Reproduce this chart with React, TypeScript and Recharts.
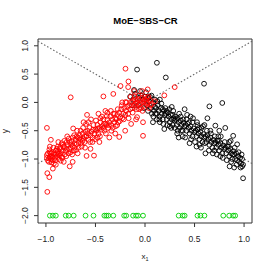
import React from "react";
import { ScatterChart, Scatter, XAxis, YAxis, ReferenceLine, ReferenceArea } from "recharts";

const xTicks = [-1, -0.5, 0, 0.5, 1];
const yTicks = [-2, -1.5, -1, -0.5, 0, 0.5, 1];

const redPoints: [number, number][] = [
  [-0.99,-0.98],[-0.98,-0.9],[-0.97,-1.05],[-0.96,-0.95],[-0.95,-1.0],[-0.94,-0.88],[-0.93,-0.97],[-0.92,-1.08],[-0.91,-0.92],[-0.9,-0.85],
  [-0.99,-0.93],[-0.97,-0.99],[-0.95,-0.9],[-0.93,-1.02],[-0.91,-0.98],[-0.98,-1.03],[-0.96,-0.88],[-0.94,-0.95],[-0.92,-0.9],
  [-0.99,-0.45],[-0.95,-0.66],[-0.986,-1.25],[-0.966,-1.32],[-0.986,-1.58],[-0.93,-1.17],
  [-0.89,-0.95],[-0.88,-0.87],[-0.87,-1.0],[-0.86,-0.82],[-0.85,-0.9],[-0.84,-0.96],[-0.83,-0.85],[-0.82,-0.78],[-0.81,-0.92],[-0.8,-0.86],
  [-0.89,-0.82],[-0.87,-0.91],[-0.85,-1.03],[-0.83,-0.75],[-0.81,-0.8],[-0.88,-0.78],[-0.86,-0.94],[-0.84,-0.72],
  [-0.79,-0.82],[-0.78,-0.75],[-0.77,-0.9],[-0.76,-0.7],[-0.75,-0.8],[-0.74,-0.68],[-0.73,-0.77],[-0.72,-0.85],[-0.71,-0.72],[-0.7,-0.66],
  [-0.79,-0.7],[-0.77,-0.64],[-0.75,-0.88],[-0.73,-0.62],[-0.71,-0.8],[-0.76,-1.13],[-0.73,-1.05],[-0.725,-0.46],[-0.75,0.09],
  [-0.69,-0.74],[-0.68,-0.62],[-0.67,-0.7],[-0.66,-0.58],[-0.65,-0.66],[-0.64,-0.78],[-0.63,-0.55],[-0.62,-0.64],[-0.61,-0.7],[-0.6,-0.52],
  [-0.69,-0.6],[-0.67,-0.8],[-0.65,-0.5],[-0.63,-0.68],[-0.61,-0.6],
  [-0.59,-0.6],[-0.58,-0.5],[-0.57,-0.66],[-0.56,-0.45],[-0.55,-0.58],[-0.54,-0.52],[-0.53,-0.62],[-0.52,-0.4],[-0.51,-0.55],[-0.5,-0.48],
  [-0.585,-0.22],[-0.59,-0.945],[-0.515,-0.94],[-0.57,-0.35],[-0.53,-0.7],
  [-0.49,-0.5],[-0.48,-0.4],[-0.47,-0.56],[-0.46,-0.45],[-0.45,-0.35],[-0.44,-0.48],[-0.43,-0.42],[-0.42,-0.3],[-0.41,-0.5],[-0.4,-0.38],
  [-0.48,-0.62],[-0.45,-0.28],[-0.42,-0.45],[-0.42,0.106],[-0.47,-0.2],
  [-0.39,-0.4],[-0.38,-0.3],[-0.37,-0.45],[-0.36,-0.35],[-0.35,-0.25],[-0.34,-0.4],[-0.33,-0.3],[-0.32,-0.2],[-0.31,-0.35],[-0.3,-0.28],
  [-0.36,-0.62],[-0.32,0.15],[-0.38,-0.18],[-0.34,-0.5],
  [-0.29,-0.3],[-0.28,-0.22],[-0.27,-0.35],[-0.26,-0.18],[-0.25,-0.26],[-0.24,-0.12],[-0.23,-0.28],[-0.22,-0.2],[-0.21,-0.1],[-0.2,-0.22],
  [-0.26,-0.61],[-0.2,-0.5],[-0.247,0.29],[-0.197,0.595],[-0.167,0.37],[-0.17,0.27],[-0.197,0.005],[-0.28,-0.4],
  [-0.19,-0.15],[-0.18,-0.08],[-0.17,-0.2],[-0.16,-0.05],[-0.15,-0.12],[-0.14,0.0],[-0.13,-0.1],[-0.12,0.02],[-0.11,-0.05],[-0.1,0.05],
  [-0.09,-0.08],[-0.08,0.0],[-0.07,0.06],[-0.06,-0.04],[-0.05,0.03],[-0.04,-0.1],[-0.03,0.08],[-0.02,0.0],[-0.01,-0.06],[0.0,0.05],
  [0.01,-0.02],[0.02,0.08],[0.03,0.0],[0.05,0.04],[-0.08,-0.26],[-0.03,0.2],[0.027,0.23],[-0.02,-0.59],[-0.02,-0.35],
  [0.195,0.124],[0.3,0.27],[0.07,-0.03],[0.1,0.02],[-0.06,-0.12],[0.04,-0.1],[-0.1,-0.02],
  [-0.965,-0.83],[-0.945,-1.06],[-0.925,-0.8],[-0.905,-1.02],[-0.885,-0.9],[-0.875,-0.7],[-0.855,-0.79],[-0.835,-0.98],[-0.815,-0.68],
  [-0.795,-0.95],[-0.785,-0.6],[-0.765,-0.83],[-0.745,-0.74],[-0.735,-0.92],[-0.715,-0.58],[-0.695,-0.84],[-0.685,-0.5],[-0.665,-0.63],
  [-0.645,-0.72],[-0.625,-0.45],[-0.605,-0.8],[-0.595,-0.38],[-0.575,-0.55],[-0.555,-0.7],[-0.545,-0.3],[-0.525,-0.48],[-0.505,-0.65],
  [-0.495,-0.32],[-0.475,-0.46],[-0.455,-0.6],[-0.435,-0.25],[-0.415,-0.38],[-0.395,-0.55],[-0.385,-0.24],[-0.365,-0.4],[-0.345,-0.15],
  [-0.325,-0.45],[-0.305,-0.2],[-0.295,-0.42],[-0.275,-0.12],[-0.255,-0.33],[-0.235,-0.05],[-0.215,-0.3],[-0.185,0.0],[-0.165,-0.28],
  [-0.145,0.1],[-0.125,-0.18],[-0.105,0.1],[-0.085,-0.12],[-0.065,0.12],[-0.045,-0.02],[-0.025,-0.15],[-0.005,0.1],[0.015,0.03],
  [0.035,0.1],[0.055,-0.05],[-0.96,-0.78],[-0.9,-1.1],[-0.82,-1.05],[-0.68,-0.9],[-0.62,-0.35],[-0.55,-0.82],[-0.46,-0.7],
  [-0.4,-0.15],[-0.3,-0.55],[-0.23,0.0],[-0.14,-0.38],[-0.11,0.2],[-0.09,-0.3]
];

const blackPoints: [number, number][] = [
  [-0.15,0.1],[-0.12,0.05],[-0.1,0.15],[-0.08,0.58],[-0.06,0.08],[-0.04,0.12],[-0.02,0.05],[0.0,0.1],[0.02,-0.05],[0.04,0.02],
  [0.05,0.1],[0.06,-0.1],[0.08,0.0],[0.09,-0.15],[0.1,0.05],[0.03,-0.15],[0.07,-0.2],[0.1,-0.08],[0.12,0.7],
  [0.11,-0.1],[0.12,-0.2],[0.13,-0.05],[0.14,-0.15],[0.15,-0.25],[0.16,-0.1],[0.17,-0.2],[0.18,-0.3],[0.19,-0.15],[0.2,-0.22],
  [0.12,-0.3],[0.15,-0.35],[0.18,-0.12],[0.195,-0.47],[0.21,0.44],
  [0.21,-0.2],[0.22,-0.3],[0.23,-0.18],[0.24,-0.25],[0.25,-0.35],[0.26,-0.22],[0.27,-0.3],[0.28,-0.4],[0.29,-0.28],[0.3,-0.32],
  [0.22,-0.15],[0.25,-0.42],[0.28,-0.22],[0.3,-0.45],
  [0.31,-0.3],[0.32,-0.4],[0.33,-0.28],[0.34,-0.35],[0.35,-0.45],[0.36,-0.32],[0.37,-0.4],[0.38,-0.5],[0.39,-0.36],[0.4,-0.42],
  [0.33,-0.5],[0.36,-0.25],[0.38,-0.6],
  [0.41,-0.4],[0.42,-0.5],[0.43,-0.38],[0.44,-0.45],[0.45,-0.55],[0.46,-0.42],[0.47,-0.5],[0.48,-0.6],[0.49,-0.46],[0.5,-0.52],
  [0.45,-0.72],[0.42,-0.3],[0.48,-0.35],
  [0.51,-0.5],[0.52,-0.6],[0.53,-0.48],[0.54,-0.55],[0.55,-0.65],[0.56,-0.52],[0.57,-0.6],[0.58,-0.7],[0.59,-0.56],[0.6,-0.62],
  [0.596,0.33],[0.53,-0.4],[0.57,-0.45],[0.55,-0.75],
  [0.61,-0.6],[0.62,-0.7],[0.63,-0.58],[0.64,-0.65],[0.65,-0.75],[0.66,-0.62],[0.67,-0.7],[0.68,-0.8],[0.69,-0.66],[0.7,-0.72],
  [0.61,-0.9],[0.63,-0.28],[0.65,-0.07],[0.71,-0.41],[0.66,-0.5],
  [0.71,-0.7],[0.72,-0.8],[0.73,-0.68],[0.74,-0.75],[0.75,-0.85],[0.76,-0.72],[0.77,-0.8],[0.78,-0.9],[0.79,-0.76],[0.8,-0.82],
  [0.78,-0.01],[0.81,-0.45],[0.74,-0.6],[0.76,-0.95],
  [0.81,-0.8],[0.82,-0.9],[0.83,-0.78],[0.84,-0.85],[0.85,-0.95],[0.86,-0.82],[0.87,-0.9],[0.88,-1.0],[0.89,-0.86],[0.9,-0.92],
  [0.91,-1.0],[0.92,-0.9],[0.93,-1.02],[0.94,-0.95],[0.95,-1.05],[0.96,-0.98],[0.97,-1.08],[0.98,-1.0],[0.99,-1.1],
  [0.854,-1.13],[0.98,-1.13],[0.99,-1.34],[0.93,-0.74],[0.89,-0.59],[0.85,-0.7],[0.87,-1.05],
  [-0.13,-0.05],[-0.11,0.22],[-0.07,-0.05],[-0.05,0.2],[-0.01,-0.1],[0.01,0.18],[0.035,0.08],[0.065,0.12],[0.085,-0.25],[0.105,-0.2],
  [0.125,0.02],[0.145,-0.3],[0.165,-0.02],[0.185,-0.38],[0.205,-0.1],[0.225,-0.4],[0.245,-0.12],[0.265,-0.45],[0.285,-0.15],[0.305,-0.25],
  [0.325,-0.55],[0.345,-0.2],[0.365,-0.5],[0.385,-0.3],[0.405,-0.62],[0.425,-0.22],[0.445,-0.35],[0.465,-0.65],[0.485,-0.28],[0.505,-0.7],
  [0.525,-0.35],[0.545,-0.45],[0.565,-0.8],[0.585,-0.42],[0.605,-0.72],[0.625,-0.5],[0.645,-0.85],[0.665,-0.55],[0.685,-0.9],[0.705,-0.6],
  [0.725,-0.92],[0.745,-0.68],[0.765,-0.6],[0.785,-0.98],[0.805,-0.7],[0.825,-1.02],[0.845,-0.78],[0.865,-0.68],[0.885,-0.92],[0.905,-0.8],
  [0.925,-1.1],[0.945,-0.88],[0.965,-1.15],[0.975,-0.92],[0.34,-0.62],[0.46,-0.25],[0.52,-0.78],[0.6,-0.4],[0.7,-0.85],[0.75,-0.5],
  [0.9,-1.15],[0.15,0.05],[0.27,-0.08],[0.4,-0.12],[0.08,-0.35]
];

const greenX = [
  -0.96,-0.93,-0.9,-0.8,-0.77,-0.72,-0.6,-0.52,-0.41,-0.39,-0.37,-0.32,-0.21,-0.19,
  -0.12,-0.09,-0.07,-0.02,0.34,0.38,0.4,0.53,0.56,0.6,0.79,0.85,0.89,0.91
];
const greenY = -2;

const title = "MoE−SBS−CR";
const FONT = "'Liberation Sans', Arial, Helvetica, sans-serif";

const redData = redPoints.map(([x, y]) => ({ x, y }));
const blackData = blackPoints.map(([x, y]) => ({ x, y }));
const greenData = greenX.map((x) => ({ x, y: greenY }));

const fmt = (v: number) => v.toFixed(1).replace("-", "\u2212");

const ring = (color: string) => (props: any) => (
  <circle cx={props.cx} cy={props.cy} r={2.4} fill="none" stroke={color} strokeWidth={0.9} />
);

const XTick = (props: any) => (
  <text x={props.x} y={242} textAnchor="middle" fontSize={8.5} fontFamily={FONT} fill="#222">
    {fmt(props.payload.value)}
  </text>
);

const YTick = (props: any) => (
  <text
    x={28}
    y={props.y}
    transform={`rotate(-90, 28, ${props.y})`}
    textAnchor="middle"
    fontSize={8.5}
    fontFamily={FONT}
    fill="#222"
  >
    {fmt(props.payload.value)}
  </text>
);

export default function App() {
  return (
    <div style={{ position: "absolute", left: 0, top: 0, width: 273, height: 273, background: "#fff" }}>
      <ScatterChart width={273} height={273} margin={{ top: 39, right: 21, bottom: 0, left: 0 }}>
        <XAxis
          type="number"
          dataKey="x"
          domain={[-1.08, 1.08]}
          ticks={xTicks}
          allowDataOverflow
          axisLine={false}
          tickSize={4}
          tickLine={{ stroke: "#333" }}
          height={50}
          tick={<XTick />}
        />
        <YAxis
          type="number"
          dataKey="y"
          domain={[-2.13, 1.12]}
          ticks={yTicks}
          allowDataOverflow
          axisLine={false}
          tickSize={4}
          tickLine={{ stroke: "#333" }}
          width={38}
          tick={<YTick />}
        />
        <ReferenceArea x1={-1.08} x2={1.08} y1={-2.13} y2={1.12} fill="none" stroke="#333" strokeWidth={1} ifOverflow="visible" />
        <ReferenceLine segment={[{ x: -1.08, y: -1.08 }, { x: 1.08, y: 1.08 }]} stroke="#666" strokeDasharray="1.5 2" strokeWidth={1.1} />
        <ReferenceLine segment={[{ x: -1.08, y: 1.08 }, { x: 1.08, y: -1.08 }]} stroke="#666" strokeDasharray="1.5 2" strokeWidth={1.1} />
        <Scatter data={blackData} shape={ring("#000000")} isAnimationActive={false} />
        <Scatter data={redData} shape={ring("#FF0000")} isAnimationActive={false} />
        <Scatter data={greenData} shape={ring("#00CD00")} isAnimationActive={false} />
      </ScatterChart>
      <svg width={273} height={273} style={{ position: "absolute", left: 0, top: 0, pointerEvents: "none" }}>
        <text x={145.5} y={23.5} textAnchor="middle" fontSize={9.5} fontWeight="bold" fontFamily={FONT} fill="#000">
          {title}
        </text>
        <text x={145} y={259} textAnchor="middle" fontSize={8} fontFamily={FONT} fill="#222">
          x<tspan fontSize={5.5} dy={2}>1</tspan>
        </text>
        <text x={8} y={131} transform="rotate(-90, 8, 131)" textAnchor="middle" fontSize={8.5} fontFamily={FONT} fill="#222">
          y
        </text>
      </svg>
    </div>
  );
}
